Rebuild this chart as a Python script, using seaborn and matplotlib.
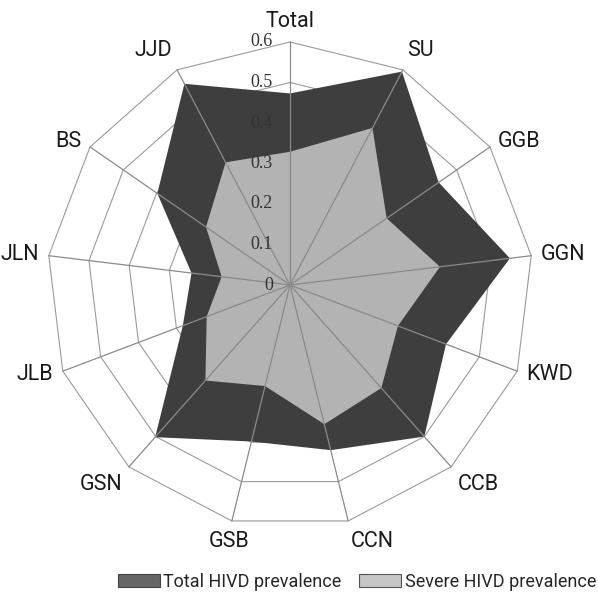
import numpy as np
import matplotlib
matplotlib.use("Agg")
import matplotlib.pyplot as plt
from matplotlib.patches import Patch
import seaborn as sns

# data
regions = ["Total", "SU", "GGB", "GGN", "KWD", "CCB", "CCN",
           "GSB", "GSN", "JLB", "JLN", "BS", "JJD"]
total_hivd = [0.473, 0.595, 0.446, 0.547, 0.412, 0.500, 0.420,
              0.398, 0.502, 0.283, 0.245, 0.398, 0.561]
severe_hivd = [0.329, 0.438, 0.290, 0.373, 0.285, 0.340, 0.354,
               0.257, 0.315, 0.220, 0.170, 0.252, 0.342]
ticks = [0, 0.1, 0.2, 0.3, 0.4, 0.5, 0.6]

sns.set_theme(style="white")
label_font = ["Roboto", "DejaVu Sans"]

n = len(regions)
theta = np.linspace(0, 2 * np.pi, n, endpoint=False)
theta_c = np.append(theta, theta[0])

fig = plt.figure(figsize=(5.98, 6.02), dpi=100)
ax = fig.add_axes([47 / 598, 74 / 602, 486 / 598, 486 / 602], projection="polar")
ax.set_theta_offset(np.pi / 2)
ax.set_theta_direction(-1)
ax.set_ylim(0, 0.6)
ax.grid(False)
ax.set_xticks([])
ax.set_yticks([])
ax.spines["polar"].set_visible(False)
ax.set_facecolor("none")

# polygon rings
for t in ticks[1:]:
    ax.plot(theta_c, [t] * (n + 1), color="#9a9a9a", lw=0.8, zorder=1, clip_on=False)

# filled series
ax.fill(theta_c, np.append(total_hivd, total_hivd[0]), color="#3e3e3e", lw=0, zorder=2)
ax.fill(theta_c, np.append(severe_hivd, severe_hivd[0]), color="#b3b3b3", lw=0, zorder=3)

# spokes
for th in theta:
    ax.plot([th, th], [0, 0.6], color="#8a8a8a", lw=0.9, zorder=4, clip_on=False)

# radial tick labels along the Total axis
for t in ticks:
    ax.annotate(f"{t:g}", xy=(0, t), xytext=(-17, 0), textcoords="offset pixels",
                ha="right", va="center", fontsize=13, color="#333333",
                family=["Liberation Serif", "DejaVu Serif"], zorder=5)

# category labels
for th, name in zip(theta, regions):
    s, c = np.sin(th), np.cos(th)
    ha = "left" if s > 0.2 else ("right" if s < -0.3 else "center")
    va = "bottom" if c > 0.6 else ("top" if c < -0.6 else "center")
    ax.annotate(name, xy=(th, 0.6), xytext=(10 * s, 10 * c), textcoords="offset pixels",
                ha=ha, va=va, fontsize=15.5, color="#1a1a1a", family=label_font,
                annotation_clip=False)

handles = [Patch(facecolor="#666666", edgecolor="#444444", lw=0.8),
           Patch(facecolor="#c6c6c6", edgecolor="#555555", lw=0.8)]
fig.legend(handles, ["Total HIVD prevalence", "Severe HIVD prevalence"],
           loc="center", bbox_to_anchor=(357 / 598, 1 - 582 / 602), ncol=2,
           frameon=False, handlelength=2.3, handleheight=0.7, handletextpad=0.2,
           columnspacing=1.0, borderpad=0, prop={"family": label_font, "size": 13})

fig.savefig("out.png", dpi=100, facecolor="white")
